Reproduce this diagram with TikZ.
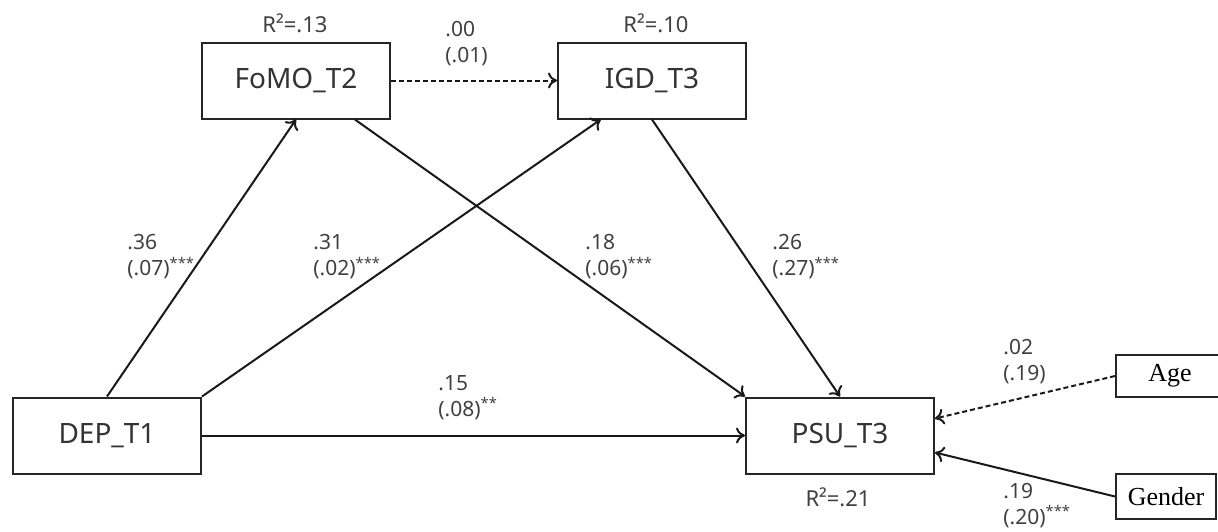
\documentclass[tikz,border=0pt]{standalone}
\usepackage{fontspec}
\setmainfont{Noto Sans}
\newfontfamily\timesfont{Liberation Serif}
\usetikzlibrary{positioning, arrows.meta, calc}

\begin{document}
\begin{tikzpicture}[x=0.5pt, y=-0.5pt,
	var/.style={draw=black!85, line width=1pt, minimum width=94pt, minimum height=38pt, font=\fontsize{14}{16}\selectfont, text=black!80},
	ctrl/.style={draw=black!85, line width=1pt, inner sep=0pt, font=\timesfont\fontsize{13}{15}\selectfont},
	effect/.style={line width=1pt, black!90, -{To[length=4.5pt, width=8pt]}},
	dashline/.style={dash pattern=on 2.5pt off 1.5pt},
	coef/.style={anchor=west, align=left, inner sep=0pt, text=black!75, font=\fontsize{10.5}{13}\selectfont},
	rsq/.style={text=black!75, font=\fontsize{11}{13}\selectfont}]
	\useasboundingbox (0,0) rectangle (1218,531);
	\node[var] (dep) at (107,435.5) {DEP\_T1};
	\node[var] (fomo) at (296,80.5) {FoMO\_T2};
	\node[var] (igd) at (652,80.5) {IGD\_T3};
	\node[var] (psu) at (840,435.5) {PSU\_T3};
	\node[ctrl, minimum width=54pt, minimum height=21pt] (age) at (1170,376) {Age};
	\node[ctrl, minimum width=50pt, minimum height=22.5pt] (gender) at (1166,496.5) {Gender};
	\draw[effect] (dep.north) -- (fomo.south);
	\draw[effect] (dep.north east) -- ($(igd.south west)!0.23!(igd.south east)$);
	\draw[effect] (dep.east) -- (psu.west);
	\draw[effect] ($(fomo.south west)!0.81!(fomo.south east)$) -- (psu.north west);
	\draw[effect] (igd.south) -- (psu.north);
	\draw[effect, dashline] (fomo.east) -- (igd.west);
	\draw[effect, dashline] (age.west) -- ($(psu.east)+(0,-17)$);
	\draw[effect] (gender.west) -- ($(psu.east)+(0,17)$);
	\node[rsq] (r13) at (295,23) {R²=.13};
	\node[rsq] (r10) at (656,23) {R²=.10};
	\node[rsq] (r21) at (838,497) {R²=.21};
	\node[coef] (b00) at (445,43.5) {.00\\(.01)};
	\node[coef] (b36) at (127,257) {.36\\(.07)\textsuperscript{***}};
	\node[coef] (b31) at (313,257) {.31\\(.02)\textsuperscript{***}};
	\node[coef] (b18) at (585,257) {.18\\(.06)\textsuperscript{***}};
	\node[coef] (b26) at (772,257) {.26\\(.27)\textsuperscript{***}};
	\node[coef] (b15) at (438,397.5) {.15\\(.08)\textsuperscript{**}};
	\node[coef] (b02) at (1003,361.5) {.02\\(.19)};
	\node[coef] (b19) at (1003,505.5) {.19\\(.20)\textsuperscript{***}};
\end{tikzpicture}
\end{document}
